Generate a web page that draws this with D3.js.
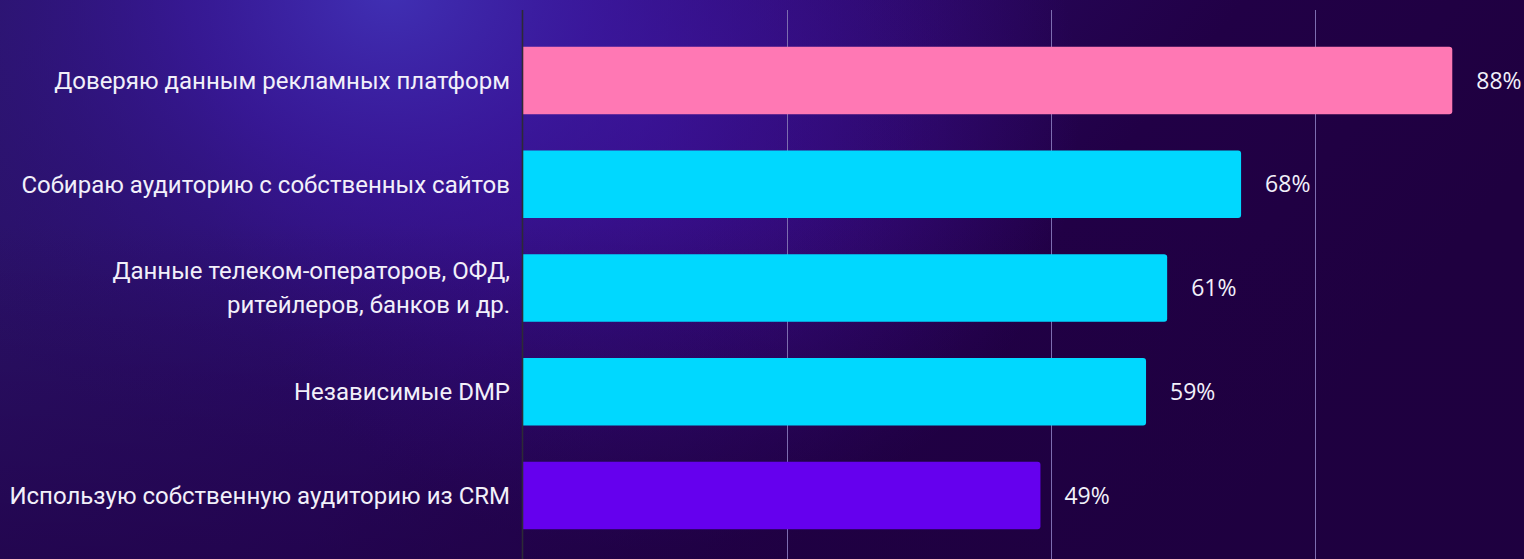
<!DOCTYPE html>
<html lang="ru">
<head>
<meta charset="utf-8">
<script src="https://cdn.jsdelivr.net/npm/d3@7"></script>
<style>
  html, body { margin: 0; padding: 0; background: #1e0042; }
  svg { display: block; }
</style>
</head>
<body>
<svg id="chart" width="1524" height="559"></svg>
<script>
// Sources of audience data, share of respondents (%)
const categories = [
  ["Доверяю данным рекламных платформ"],
  ["Собираю аудиторию с собственных сайтов"],
  ["Данные телеком-операторов, ОФД,", "ритейлеров, банков и др."],
  ["Независимые DMP"],
  ["Использую собственную аудиторию из CRM"]
];
const values = [88, 68, 61, 59, 49];
const barColors = ["#ff78b4", "#00d8ff", "#00d8ff", "#00d8ff", "#6500ee"];
const gridTicks = [25, 50, 75];

const W = 1524, H = 559;
const svg = d3.select("#chart");

// Background: deep violet with a soft glow in the upper left
const defs = svg.append("defs");
const base = defs.append("linearGradient").attr("id", "bgBase")
  .attr("x1", "0").attr("y1", "0").attr("x2", "1").attr("y2", "0.3");
base.append("stop").attr("offset", "0").attr("stop-color", "#2a1668");
base.append("stop").attr("offset", "0.45").attr("stop-color", "#2a0a66");
base.append("stop").attr("offset", "0.75").attr("stop-color", "#210046");
base.append("stop").attr("offset", "1").attr("stop-color", "#1f0040");

const glow = defs.append("radialGradient").attr("id", "bgGlow")
  .attr("gradientUnits", "userSpaceOnUse")
  .attr("cx", 390).attr("cy", -10).attr("r", 580)
  .attr("gradientTransform", "translate(390,-10) scale(1,0.85) translate(-390,10)");
glow.append("stop").attr("offset", "0").attr("stop-color", "#4030b4").attr("stop-opacity", 1);
glow.append("stop").attr("offset", "0.35").attr("stop-color", "#3a1aa0").attr("stop-opacity", 0.75);
glow.append("stop").attr("offset", "1").attr("stop-color", "#2a0a70").attr("stop-opacity", 0);

const glow2 = defs.append("radialGradient").attr("id", "bgGlow2")
  .attr("gradientUnits", "userSpaceOnUse")
  .attr("cx", 640).attr("cy", 110).attr("r", 440);
glow2.append("stop").attr("offset", "0").attr("stop-color", "#400e9a").attr("stop-opacity", 0.9);
glow2.append("stop").attr("offset", "1").attr("stop-color", "#400e9a").attr("stop-opacity", 0);

const shade = defs.append("linearGradient").attr("id", "bgShade")
  .attr("x1", "0").attr("y1", "0").attr("x2", "0").attr("y2", "1");
shade.append("stop").attr("offset", "0.4").attr("stop-color", "#1e0040").attr("stop-opacity", 0);
shade.append("stop").attr("offset", "1").attr("stop-color", "#1e0040").attr("stop-opacity", 0.6);

svg.append("rect").attr("width", W).attr("height", H).attr("fill", "url(#bgBase)");
svg.append("rect").attr("width", W).attr("height", H).attr("fill", "url(#bgGlow2)");
svg.append("rect").attr("width", W).attr("height", H).attr("fill", "url(#bgGlow)");
svg.append("rect").attr("width", W).attr("height", H).attr("fill", "url(#bgShade)");

// Scales
const x = d3.scaleLinear().domain([0, 100]).range([523, 1579]);
const y = d3.scaleBand()
  .domain(d3.range(categories.length))
  .range([28.5, 547.5])
  .paddingInner(0.35)
  .paddingOuter(0.175);

// Vertical gridlines
svg.append("g")
  .selectAll("line")
  .data(gridTicks)
  .join("line")
  .attr("x1", d => Math.round(x(d)) + 0.5)
  .attr("x2", d => Math.round(x(d)) + 0.5)
  .attr("y1", 10).attr("y2", H)
  .attr("stroke", "#7d6db0")
  .attr("stroke-width", 1);

// Bars, square at the axis, lightly rounded at the end
const r = 3;
svg.append("g")
  .selectAll("path")
  .data(values)
  .join("path")
  .attr("fill", (d, i) => barColors[i])
  .attr("d", (d, i) => {
    const x0 = x(0), x1 = x(d), y0 = y(i), h = y.bandwidth();
    return `M${x0},${y0}H${x1 - r}Q${x1},${y0} ${x1},${y0 + r}` +
           `V${y0 + h - r}Q${x1},${y0 + h} ${x1 - r},${y0 + h}H${x0}Z`;
  });

// Category axis line
svg.append("line")
  .attr("x1", 522.5).attr("x2", 522.5)
  .attr("y1", 10).attr("y2", H)
  .attr("stroke", "#2c2a36")
  .attr("stroke-width", 1.6);

// Category labels
const lineH = 34;
svg.append("g")
  .selectAll("text")
  .data(categories)
  .join("text")
  .attr("text-anchor", "end")
  .attr("font-family", "Roboto, sans-serif")
  .attr("font-size", 24)
  .attr("fill", "#f2f0fa")
  .each(function (lines, i) {
    const cy = y(i) + y.bandwidth() / 2;
    const first = cy - (lines.length - 1) * lineH / 2;
    d3.select(this).selectAll("tspan")
      .data(lines)
      .join("tspan")
      .attr("x", 510)
      .attr("y", (l, k) => first + k * lineH)
      .attr("dy", "0.35em")
      .text(l => l);
  });

// Value labels
svg.append("g")
  .selectAll("text")
  .data(values)
  .join("text")
  .attr("x", d => x(d) + 24)
  .attr("y", (d, i) => y(i) + y.bandwidth() / 2)
  .attr("dy", "0.36em")
  .attr("font-family", "'Open Sans', sans-serif")
  .attr("font-size", 23)
  .attr("fill", "#f2f0fa")
  .text(d => d + "%");
</script>
</body>
</html>
